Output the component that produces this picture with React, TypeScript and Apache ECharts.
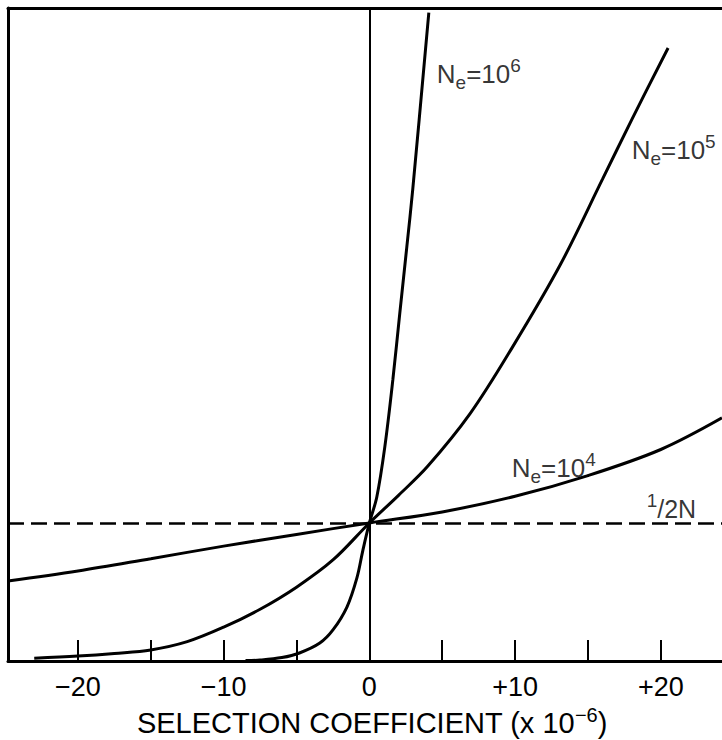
import React, { useEffect, useRef } from "react";
import * as echarts from "echarts";

// Selection coefficient (x 10^-6) against fixation probability, in units of 1/2N
const ne4S = [-24.8, -20, -15, -10, -5, 0, 5, 10, 15, 20, 24.2];
const ne4Y = [0.58, 0.652, 0.741, 0.832, 0.917, 1.0, 1.08, 1.193, 1.343, 1.532, 1.761];

const ne5S = [-23, -20, -17.5, -15, -12.5, -10, -7.5, -5, -2.5, 0, 2, 4, 6.9, 9.8, 13.1, 16, 18, 20.5];
const ne5Y = [0.02, 0.036, 0.055, 0.08, 0.14, 0.245, 0.375, 0.535, 0.732, 1.0, 1.2, 1.41, 1.79, 2.27, 2.87, 3.49, 3.92, 4.44];

const ne6S = [-8.5, -7.5, -6, -4.8, -3.4, -2.5, -1.54, -0.86, -0.45, 0, 0.51, 1.06, 1.61, 2.09, 2.57, 2.98, 4.08];
const ne6Y = [0.003, 0.007, 0.025, 0.058, 0.13, 0.225, 0.391, 0.6, 0.8, 1.0, 1.188, 1.551, 2.036, 2.522, 3.0, 3.42, 4.696];

const halfNLevel = 1;
const zeroSelection = 0;

const tickValues = [-20, -15, -10, -5, 5, 10, 15, 20];
const labelValues = [-20, -10, 0, 10, 20];

const xMin = -24.8;
const xMax = 24.2;
const yMax = 4.73;

const annotations = [
  { text: "{n|N}{sub|e}{n|=10}{sup|6}", s: 4.63, y: 4.25 },
  { text: "{n|N}{sub|e}{n|=10}{sup|5}", s: 18.0, y: 3.7 },
  { text: "{n|N}{sub|e}{n|=10}{sup|4}", s: 9.77, y: 1.4 },
  { text: "{sup|1}{h|/2N}", s: 19.03, y: 1.1 },
];

const FONT = "'Liberation Sans', Arial, sans-serif";
const INK = "#000";

function pairs(xs: number[], ys: number[]) {
  return xs.map((x, i) => [x, ys[i]]);
}

function fmt(v: number) {
  if (v > 0) return "+" + v;
  if (v < 0) return "\u2212" + Math.abs(v);
  return "0";
}

export default function App() {
  const ref = useRef<HTMLDivElement>(null);
  useEffect(() => {
    const chart = echarts.init(ref.current!, null, { renderer: "svg" });
    const labelRich = {
      n: { fontSize: 26, lineHeight: 36, fontFamily: FONT, color: INK },
      h: { fontSize: 25, lineHeight: 36, fontFamily: FONT, color: INK },
      sub: { fontSize: 19, lineHeight: 18, verticalAlign: "bottom", fontFamily: FONT, color: INK },
      sup: { fontSize: 19, lineHeight: 18, verticalAlign: "top", fontFamily: FONT, color: INK },
    };
    const lineSeries = (name: string, xs: number[], ys: number[]) => ({
      type: "line",
      name,
      data: pairs(xs, ys),
      showSymbol: false,
      symbol: "none",
      smooth: 0.35,
      silent: true,
      lineStyle: { color: INK, width: 3 },
      z: 3,
    });
    chart.setOption({
      animation: false,
      backgroundColor: "#fff",
      grid: { left: 8, right: 0, top: 8, bottom: 79, containLabel: false, outerBoundsMode: "none" },
      xAxis: [
        {
          type: "value",
          min: xMin,
          max: xMax,
          position: "bottom",
          axisLine: { show: true, onZero: false, lineStyle: { color: INK, width: 3 } },
          axisTick: {
            show: true,
            inside: true,
            length: 21,
            customValues: tickValues,
            lineStyle: { color: INK, width: 2 },
          },
          axisLabel: {
            show: true,
            customValues: labelValues,
            margin: 12,
            fontSize: 27,
            fontFamily: FONT,
            color: INK,
            formatter: fmt,
          },
          splitLine: { show: false },
          name: "{n|SELECTION COEFFICIENT (x 10}{sup|\u22126}{n|)}",
          nameLocation: "middle",
          nameGap: 43,
          nameTextStyle: {
            padding: [0, 0, 0, 14],
            rich: {
              n: { fontSize: 29, lineHeight: 36, fontFamily: FONT, color: INK },
              sup: { fontSize: 20, lineHeight: 20, verticalAlign: "top", fontFamily: FONT, color: INK },
            },
          },
        },
        {
          type: "value",
          min: xMin,
          max: xMax,
          position: "top",
          axisLine: { show: true, onZero: false, lineStyle: { color: INK, width: 3 } },
          axisTick: { show: false },
          axisLabel: { show: false },
          splitLine: { show: false },
        },
      ],
      yAxis: {
        type: "value",
        min: 0,
        max: yMax,
        axisLine: { show: true, onZero: false, lineStyle: { color: INK, width: 3 } },
        axisTick: { show: false },
        axisLabel: { show: false },
        splitLine: { show: false },
      },
      series: [
        {
          ...lineSeries("Ne=10^4", ne4S, ne4Y),
          markLine: {
            silent: true,
            symbol: ["none", "none"],
            label: { show: false },
            data: [
              { yAxis: halfNLevel, lineStyle: { color: INK, width: 2.5, type: [16, 7] } },
              { xAxis: zeroSelection, lineStyle: { color: INK, width: 2, type: "solid" } },
            ],
          },
        },
        lineSeries("Ne=10^5", ne5S, ne5Y),
        lineSeries("Ne=10^6", ne6S, ne6Y),
        {
          type: "scatter",
          symbolSize: 0,
          silent: true,
          z: 5,
          data: annotations.map((a) => ({
            value: [a.s, a.y],
            label: {
              show: true,
              position: "right",
              distance: 0,
              formatter: a.text,
              rich: labelRich,
            },
          })),
        },
      ],
    });
    return () => chart.dispose();
  }, []);
  return (
    <div
      ref={ref}
      style={{ position: "fixed", left: 0, top: 0, width: 722, height: 740, background: "#fff" }}
    />
  );
}
